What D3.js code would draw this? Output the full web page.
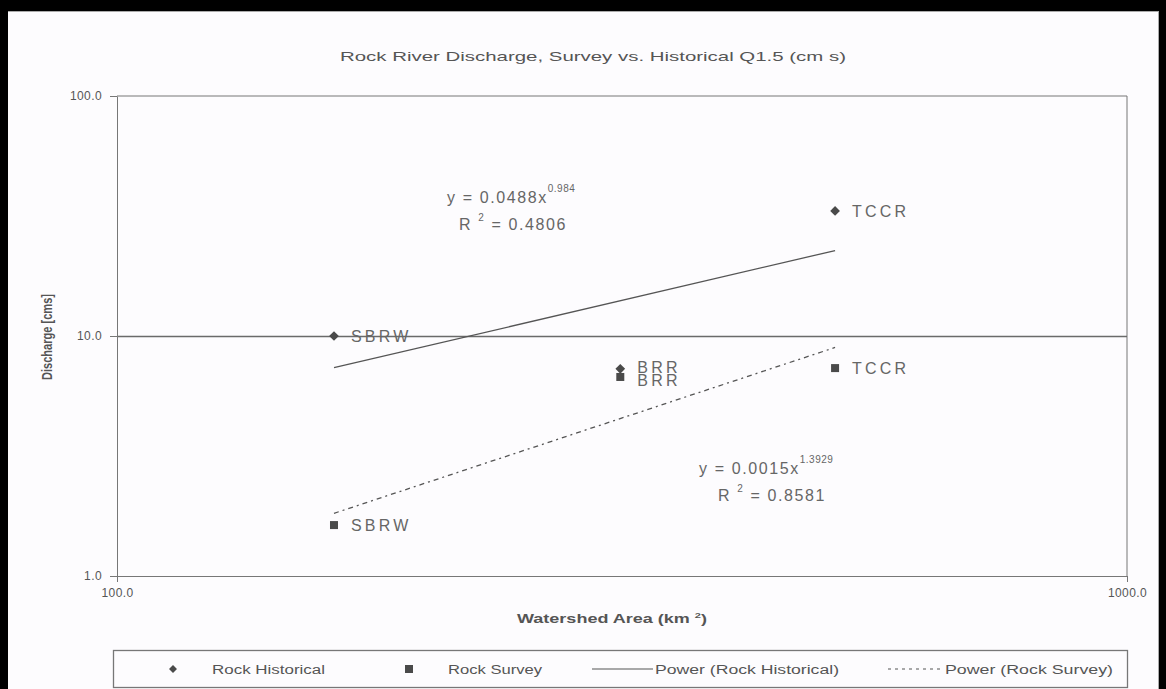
<!DOCTYPE html>
<html><head><meta charset="utf-8">
<script src="https://cdn.jsdelivr.net/npm/d3@7"></script>
<style>
html,body{margin:0;padding:0;background:#fdfcfe;}
svg{display:block;font-family:"Liberation Sans",Arial,sans-serif;}
</style></head>
<body>
<svg id="chart" width="1166" height="689"></svg>
<script>
// ---- data ----
const sites = ["SBRW", "BRR", "TCCR"];
const areaKm2 = [164, 315, 514];
const historicalQ = [10.0, 7.3, 33.2];
const surveyQ = [1.63, 6.75, 7.35];
const fitNames = ["Power (Rock Historical)", "Power (Rock Survey)"];
const fitCoef = [0.0488, 0.0015];
const fitExp = [0.984, 1.3929];
const fitR2 = [0.4806, 0.8581];
const yTicks = [1, 10, 100];
const xTicks = [100, 1000];
const seriesNames = ["Rock Historical", "Rock Survey"];

const W = 1166, H = 689;
const svg = d3.select("#chart");
const TXT = "#555", AX = "#777";

svg.append("rect").attr("width", W).attr("height", H).attr("fill", "#fdfcfe");
// frame
svg.append("rect").attr("x", 0).attr("y", 0).attr("width", W).attr("height", 11).attr("fill", "#000");
svg.append("rect").attr("x", 0).attr("y", 0).attr("width", 8).attr("height", H).attr("fill", "#000");
svg.append("rect").attr("x", 1159).attr("y", 0).attr("width", 7).attr("height", H).attr("fill", "#000");
svg.append("line").attr("x1", 8).attr("x2", 1159).attr("y1", 11.5).attr("y2", 11.5).attr("stroke", "#aaa");
svg.append("line").attr("x1", 1158.5).attr("x2", 1158.5).attr("y1", 11).attr("y2", H).attr("stroke", "#aaa");

const x = d3.scaleLog().domain([100, 1000]).range([117, 1127]);
const y = d3.scaleLog().domain([1, 100]).range([576, 96]);

// title
svg.append("text").attr("x", 340).attr("y", 61).attr("textLength", 506).attr("lengthAdjust", "spacingAndGlyphs")
  .attr("font-size", 13).attr("fill", TXT).text("Rock River Discharge, Survey vs. Historical Q1.5 (cm s)");

// plot border (top and right) and gridline at 10
svg.append("line").attr("x1", x(100)).attr("x2", x(1000)).attr("y1", y(100)).attr("y2", y(100)).attr("stroke", AX);
svg.append("line").attr("x1", x(1000)).attr("x2", x(1000)).attr("y1", y(100)).attr("y2", y(1)).attr("stroke", AX);
svg.append("g").selectAll("line").data([10]).join("line")
  .attr("x1", x(100)).attr("x2", x(1000)).attr("y1", d => Math.round(y(d)) + 0.5).attr("y2", d => Math.round(y(d)) + 0.5)
  .attr("stroke", "#6a6a6a").attr("stroke-width", 1.4);

// axes
const yAxis = svg.append("g").attr("transform", `translate(${x(100)},0)`)
  .call(d3.axisLeft(y).tickValues(yTicks).tickSize(7).tickSizeOuter(0).tickPadding(8).tickFormat(d3.format(".1f")));
const xAxis = svg.append("g").attr("transform", `translate(0,${y(1)})`)
  .call(d3.axisBottom(x).tickValues(xTicks).tickSize(6).tickSizeOuter(0).tickPadding(6).tickFormat(d3.format(".1f")));
[yAxis, xAxis].forEach(g => {
  g.select(".domain").attr("stroke", AX);
  g.selectAll(".tick line").attr("stroke", AX);
  g.selectAll(".tick text").attr("fill", TXT).attr("font-size", 12).attr("font-family", "Liberation Sans, Arial, sans-serif")
    .attr("letter-spacing", 0.4);
});

// axis titles
svg.append("text").attr("transform", "translate(52,337) rotate(-90)").attr("text-anchor", "middle")
  .attr("font-size", 14).attr("font-weight", "bold").attr("fill", TXT)
  .attr("textLength", 86).attr("lengthAdjust", "spacingAndGlyphs").text("Discharge [cms]");
const xt = svg.append("text").attr("x", 517).attr("y", 623)
  .attr("font-size", 13).attr("font-weight", "bold").attr("fill", TXT)
  .attr("textLength", 190).attr("lengthAdjust", "spacingAndGlyphs");
xt.append("tspan").text("Watershed Area (km ");
xt.append("tspan").attr("dy", -5).attr("font-size", 8).text("2");
xt.append("tspan").attr("dy", 5).text(")");

// trendlines (power fits drawn as straight lines on log-log axes)
const xr = d3.extent(areaKm2);
const line = d3.line().x(d => x(d[0])).y(d => y(d[1]));
fitCoef.forEach((a, i) => {
  const pts = xr.map(v => [v, a * Math.pow(v, fitExp[i])]);
  svg.append("path").attr("d", line(pts)).attr("fill", "none")
    .attr("stroke", "#555").attr("stroke-width", 1.3)
    .attr("stroke-dasharray", i === 1 ? "5,4,2,4" : null);
});

// markers
const diamond = d3.symbol().type(d3.symbolDiamond2).size(60);
svg.append("g").selectAll("path").data(historicalQ).join("path")
  .attr("d", diamond).attr("transform", (d, i) => `translate(${x(areaKm2[i])},${y(d)})`).attr("fill", "#4a4a4a");
svg.append("g").selectAll("rect").data(surveyQ).join("rect")
  .attr("x", (d, i) => x(areaKm2[i]) - 4).attr("y", d => y(d) - 4).attr("width", 8).attr("height", 8).attr("fill", "#4a4a4a");

// point labels
function labels(vals, dyOff) {
  svg.append("g").selectAll("text").data(vals).join("text")
    .attr("x", (d, i) => x(areaKm2[i]) + 17).attr("y", (d, i) => y(d) + 6 + dyOff[i])
    .attr("font-size", 16).attr("fill", "#666").attr("letter-spacing", 3.2)
    .text((d, i) => sites[i]);
}
labels(historicalQ, [0, -2, 0]);
labels(surveyQ, [0, 3, 0]);

// equations
function equation(i, ex, ey, rx, ry) {
  const t = svg.append("text").attr("x", ex).attr("y", ey).attr("font-size", 16).attr("fill", "#666").attr("letter-spacing", 1.6);
  t.append("tspan").text(`y = ${fitCoef[i]}x`);
  t.append("tspan").attr("dy", -11).attr("font-size", 10).attr("letter-spacing", 0.5).text(fitExp[i]);
  const r = svg.append("text").attr("x", rx).attr("y", ry).attr("font-size", 16).attr("fill", "#666").attr("letter-spacing", 1.6);
  r.append("tspan").text("R ");
  r.append("tspan").attr("dy", -9).attr("font-size", 10).text("2");
  r.append("tspan").attr("dy", 9).text(` = ${fitR2[i].toFixed(4)}`);
}
equation(0, 447, 203, 459, 230);
equation(1, 699, 474, 718, 501);

// legend
svg.append("rect").attr("x", 113.5).attr("y", 650.5).attr("width", 1014).attr("height", 37)
  .attr("fill", "#fdfcfe").attr("stroke", "#777").attr("stroke-width", 1.3);
const ly = 669;
svg.append("path").attr("d", d3.symbol().type(d3.symbolDiamond2).size(40)).attr("transform", `translate(173,${ly})`).attr("fill", "#4a4a4a");
svg.append("rect").attr("x", 405).attr("y", ly - 4).attr("width", 8).attr("height", 8).attr("fill", "#4a4a4a");
svg.append("line").attr("x1", 592).attr("x2", 653).attr("y1", ly).attr("y2", ly).attr("stroke", "#555").attr("stroke-width", 1.2);
svg.append("line").attr("x1", 888).attr("x2", 944).attr("y1", ly).attr("y2", ly).attr("stroke", "#555").attr("stroke-width", 1.2).attr("stroke-dasharray", "3,4");
const legTexts = [[seriesNames[0], 212, 113], [seriesNames[1], 448, 94], [fitNames[0], 655, 184], [fitNames[1], 945, 168]];
svg.append("g").selectAll("text").data(legTexts).join("text")
  .attr("x", d => d[1]).attr("y", ly + 5).attr("textLength", d => d[2]).attr("lengthAdjust", "spacingAndGlyphs")
  .attr("font-size", 12).attr("fill", TXT).text(d => d[0]);
</script>
</body></html>
